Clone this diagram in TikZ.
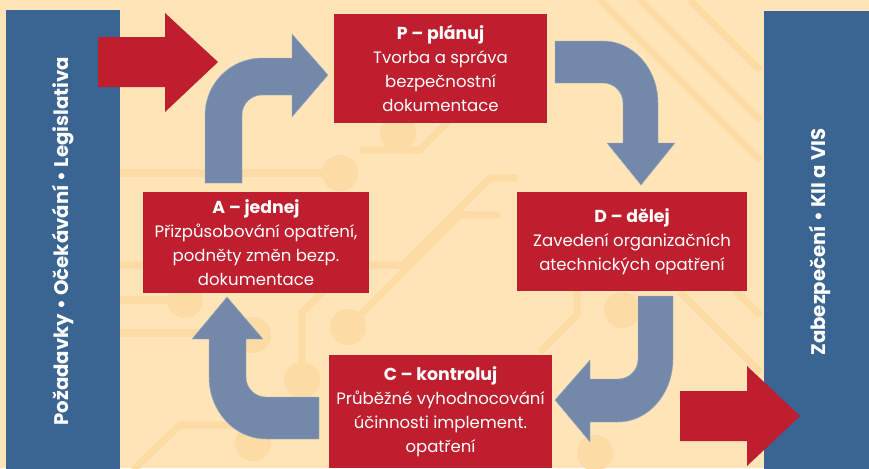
\documentclass[tikz,border=0pt]{standalone}
\usepackage{fontspec}
\setmainfont{Poppins}

\definecolor{bgsand}{RGB}{254,228,182}
\definecolor{trace}{RGB}{252,219,164}
\definecolor{barblue}{RGB}{58,101,146}
\definecolor{boxred}{RGB}{190,30,45}
\definecolor{arrowblue}{RGB}{116,137,170}

\newcommand{\steptitle}[1]{{\bfseries\fontsize{14.8}{20.4}\selectfont #1}}

\tikzset{
  stepbox/.style={fill=boxred, text=white, align=center, inner sep=0pt,
    font=\fontsize{14.1}{20.4}\selectfont},
  bartext/.style={rotate=90, text=white, font=\bfseries\fontsize{16.8}{18}\selectfont},
  cycarrow/.style={fill=arrowblue, draw=arrowblue!70!white, line width=0.4pt},
  bigarrow/.style={fill=boxred},
  track/.style={draw=trace, line width=6pt},
  pad/.style={fill=trace}
}

\begin{document}
\begin{tikzpicture}[x=0.03cm, y=0.03cm, yscale=-1]
  % background
  \clip (0,0) rectangle (869,468);
  \fill[bgsand] (0,0) rectangle (869,468);
  % circuit pattern
  \draw[track] (120,173) -- (322,173);
  \fill[pad] (340,173) circle (18);
  \fill[pad] (398,133) circle (18);
  \draw[track] (120,300) -- (167,300);
  \fill[pad] (185,300) circle (18);
  \draw[track] (120,333) -- (235,333);
  \fill[pad] (253,335) circle (18);
  \draw[track] (133,470) -- (180,425) -- (240,425);
  \fill[pad] (302,380) circle (18);
  \draw[track] (302,362) -- (302,312) -- (345,270);
  \draw[track] (120,265) -- (403,265) -- (490,178) -- (517,178);
  \fill[pad] (348,327) circle (18);
  \draw[track] (348,327) -- (460,215) -- (500,215);
  \draw[track] (360,150) -- (420,150) -- (470,100);
  \draw[track] (577,280) -- (577,315) -- (540,352);
  \fill[pad] (622,310) circle (18);
  \fill[pad] (595,453) circle (18);
  \fill[pad] (253,443) circle (18);
  \draw[track] (600,0) -- (760,160);
  \draw[track] (640,0) -- (760,120);
  \draw[track] (690,0) -- (760,70);
  \draw[track] (680,292) -- (760,372);
  \draw[track] (705,260) -- (760,315);
  % side bars
  \fill[barblue] (6,10) rectangle (120,480);
  \fill[barblue] (764,11) rectangle (880,480);
  \node[bartext] (inputs) at (63,241) {Požadavky • Očekávání • Legislativa};
  \node[bartext] (outputs) at (820,242) {Zabezpečení • KII a VIS};
  % input and output arrows
  \fill[bigarrow] (98,37) -- (165,37) -- (165,13) -- (218,62) -- (165,112) -- (165,87) -- (98,87) -- cycle;
  \fill[bigarrow] (680,391) -- (747,391) -- (747,366) -- (800,416) -- (747,466) -- (747,441) -- (680,441) -- cycle;
  % PDCA boxes
  \node[stepbox, minimum width=6.39cm, minimum height=3.27cm] (plan) at (440.5,68.5)
    {\steptitle{P – plánuj}\\Tvorba a správa\\bezpečnostní\\dokumentace};
  \node[stepbox, minimum width=6.9cm, minimum height=2.97cm] (do) at (632,241.5)
    {\steptitle{D – dělej}\\Zavedení organizačních\\atechnických opatření};
  \node[stepbox, minimum width=6.78cm, minimum height=3.03cm] (act) at (256,242.5)
    {\steptitle{A – jednej}\\Přizpůsobování opatření,\\podněty změn bezp.\\dokumentace};
  \node[stepbox, minimum width=6.69cm, minimum height=3.39cm] (check) at (440.5,411.5)
    {\steptitle{C – kontroluj}\\Průběžné vyhodnocování\\účinnosti implement.\\opatření};
  % cycle arrows
  \filldraw[cycarrow] (205,183) -- (205,115) .. controls (205,83.5) and (230.5,58) .. (262,58)
    -- (292,58) -- (292,34) -- (328,75) -- (292,117) -- (292,95) -- (262,95)
    .. controls (251,95) and (242,104) .. (242,115) -- (242,183) -- cycle;
  \filldraw[cycarrow] (555,41) -- (603,41) .. controls (633.4,41) and (658,68.8) .. (658,103)
    -- (658,143) -- (675,143) -- (641,185) -- (607,143) -- (623,143) -- (623,103)
    .. controls (623,92) and (614,83) .. (603,83) -- (555,83) -- cycle;
  \filldraw[cycarrow] (638,296) -- (673,296) -- (673,359) .. controls (673,393.8) and (648.4,422) .. (618,422)
    -- (590,422) -- (590,442) -- (555,400) -- (590,360) -- (590,379) -- (618,379)
    .. controls (629,379) and (638,370) .. (638,359) -- cycle;
  \filldraw[cycarrow] (319,397) -- (266,397) .. controls (255,397) and (246,388) .. (246,377)
    -- (246,339) -- (263,339) -- (227,297) -- (192,339) -- (209,339) -- (209,377)
    .. controls (209,411.2) and (234.5,439) .. (266,439) -- (319,439) -- cycle;
\end{tikzpicture}
\end{document}
